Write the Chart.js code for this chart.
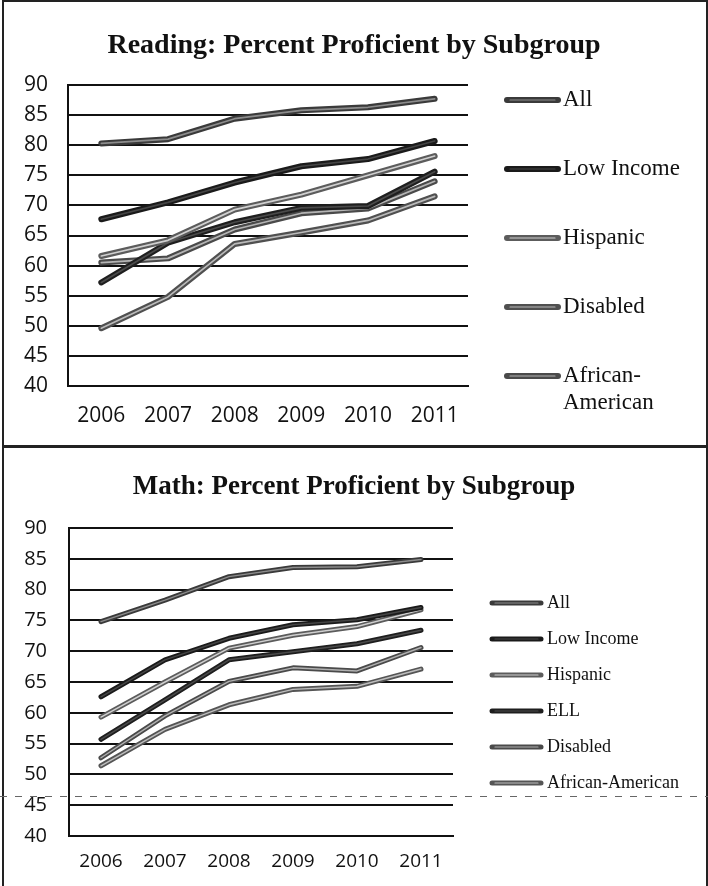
<!DOCTYPE html>
<html>
<head>
<meta charset="utf-8">
<script src="https://cdn.jsdelivr.net/npm/chart.js@4.4.1/dist/chart.umd.min.js"></script>
<style>
  html, body { margin:0; padding:0; background:#fff; }
  body { width:708px; height:886px; overflow:hidden; position:relative; }
  .frame { position:absolute; box-sizing:border-box; border:2px solid #222; }
  canvas { position:absolute; left:0; }
  .fold { position:absolute; left:0; width:708px; height:1px; top:796px;
          background: repeating-linear-gradient(to right, #666 0 7px, transparent 7px 15px); }
</style>
</head>
<body>
<div class="frame" style="left:2px; top:0; width:706px; height:448px;"></div>
<div class="frame" style="left:2px; top:445px; width:706px; height:460px;"></div>
<canvas id="reading" width="708" height="445" style="top:0"></canvas>
<canvas id="math" width="708" height="441" style="top:445px"></canvas>
<div class="fold"></div>
<script>
// ---------- data ----------
const years = ['2006', '2007', '2008', '2009', '2010', '2011'];

const readingTitle = 'Reading: Percent Proficient by Subgroup';
const readingAll             = [80.3, 81.0, 84.4, 85.8, 86.3, 87.7];
const readingLowIncome       = [67.7, 70.5, 73.8, 76.5, 77.7, 80.7];
const readingHispanic        = [61.6, 64.2, 69.3, 71.8, 75.0, 78.2];
const readingELL             = [57.2, 63.8, 67.2, 69.6, 69.9, 75.6];
const readingAfricanAmerican = [60.5, 61.2, 66.0, 68.7, 69.5, 74.0];
const readingDisabled        = [49.6, 54.8, 63.6, 65.5, 67.5, 71.5];

const mathTitle = 'Math: Percent Proficient by Subgroup';
const mathAll             = [74.8, 78.3, 82.1, 83.6, 83.7, 84.9];
const mathLowIncome       = [62.6, 68.6, 72.1, 74.3, 75.1, 77.1];
const mathHispanic        = [59.3, 65.0, 70.5, 72.6, 74.0, 76.7];
const mathELL             = [55.7, 62.1, 68.6, 69.9, 71.2, 73.4];
const mathDisabled        = [52.7, 59.5, 65.1, 67.3, 66.8, 70.6];
const mathAfricanAmerican = [51.4, 57.3, 61.3, 63.8, 64.3, 67.1];

const yMin = 40, yMax = 90, yStep = 5;

// ---------- helpers ----------
function series(label, data, color, hl, width, k) {
  return [
    { label, data, yAxisID: 'y', borderColor: color, borderWidth: width, order: 2 * k + 1 },
    { label: label + ' (hl)', data, yAxisID: 'y', borderColor: hl, borderWidth: Math.max(1, width / 3.5), order: 2 * k, isHighlight: true }
  ];
}

const sideLegend = {
  id: 'sideLegend',
  afterDraw(chart, args, o) {
    const ctx = chart.ctx;
    ctx.save();
    const bases = chart.data.datasets.filter(d => !d.isHighlight);
    o.items.forEach((it, i) => {
      const ds = bases.find(d => d.label === it.label);
      const hl = chart.data.datasets.find(d => d.label === it.label + ' (hl)');
      const y = o.top + i * o.gap;
      ctx.lineCap = 'round';
      ctx.strokeStyle = ds.borderColor; ctx.lineWidth = o.lineWidth;
      ctx.beginPath(); ctx.moveTo(o.x0, y); ctx.lineTo(o.x1, y); ctx.stroke();
      ctx.strokeStyle = hl.borderColor; ctx.lineWidth = 1.2;
      ctx.beginPath(); ctx.moveTo(o.x0 + 3, y); ctx.lineTo(o.x1 - 3, y); ctx.stroke();
      ctx.font = o.font; ctx.fillStyle = '#111'; ctx.textBaseline = 'middle'; ctx.textAlign = 'left';
      const lines = it.lines || [ds.label];
      lines.forEach((t, j) => ctx.fillText(t, o.textX, y + j * o.lineHeight));
    });
    ctx.restore();
  }
};

function makeChart(id, title, datasets, geo) {
  return new Chart(document.getElementById(id), {
    type: 'line',
    data: { labels: years, datasets },
    options: {
      responsive: false, animation: false, devicePixelRatio: 1,
      layout: { padding: 0 },
      elements: {
        line: { tension: 0, borderCapStyle: 'round', borderJoinStyle: 'round' },
        point: { radius: 0, hoverRadius: 0 }
      },
      plugins: {
        legend: { display: false },
        tooltip: { enabled: false },
        title: {
          display: true, text: title, color: '#111',
          font: { family: 'Liberation Serif', weight: 'bold', size: geo.titleSize, lineHeight: 1.2 },
          padding: { top: geo.titleTop, bottom: geo.titleBottom }
        },
        sideLegend: geo.legend
      },
      scales: {
        x: {
          offset: true,
          grid: { display: false, drawTicks: false },
          border: { display: true, color: '#111', width: 2 },
          ticks: { color: '#111', padding: geo.xPad, font: { family: 'Open Sans', size: geo.xFont } },
          afterFit: s => { s.height = geo.xHeight; }
        },
        y: {
          position: 'left',
          min: yMin, max: yMax,
          grid: { color: '#111', lineWidth: 2, drawTicks: false },
          border: { display: true, color: '#111', width: 2 },
          ticks: { stepSize: yStep, color: '#111', padding: geo.yPad, font: { family: 'Open Sans', size: geo.yFont } },
          afterFit: s => { s.width = geo.yWidth; }
        },
        legendSpace: {
          type: 'linear', position: 'right', min: yMin, max: yMax,
          grid: { display: false, drawTicks: false },
          border: { display: false },
          ticks: { display: false },
          afterFit: s => { s.width = geo.padRight; }
        }
      }
    },
    plugins: [sideLegend]
  });
}

// ---------- reading ----------
const readingSets = [
  ...series('All', readingAll, '#3a3a3a', '#8c8c8c', 6, 0),
  ...series('Low Income', readingLowIncome, '#1a1a1a', '#454545', 6, 1),
  ...series('Hispanic', readingHispanic, '#5c5c5c', '#cfcfcf', 6, 2),
  ...series('ELL', readingELL, '#1e1e1e', '#4a4a4a', 6, 3),
  ...series('African-American', readingAfricanAmerican, '#4a4a4a', '#b4b4b4', 6, 4),
  ...series('Disabled', readingDisabled, '#505050', '#bababa', 6, 5)
];
makeChart('reading', readingTitle, readingSets, {
  padRight: 240, titleSize: 28, titleTop: 29, titleBottom: 22.4,
  xHeight: 59, xPad: 17, xFont: 21, yWidth: 68, yPad: 20, yFont: 21,
  legend: {
    x0: 507, x1: 558, textX: 563, top: 100, gap: 69, lineWidth: 6,
    font: '23px "Liberation Serif"', lineHeight: 27,
    items: [
      { label: 'All' }, { label: 'Low Income' }, { label: 'Hispanic' },
      { label: 'Disabled' }, { label: 'African-American', lines: ['African-', 'American'] }
    ]
  }
});

// ---------- math ----------
const mathSets = [
  ...series('All', mathAll, '#3a3a3a', '#8c8c8c', 5, 0),
  ...series('Low Income', mathLowIncome, '#1a1a1a', '#454545', 5, 1),
  ...series('Hispanic', mathHispanic, '#5c5c5c', '#cfcfcf', 5, 2),
  ...series('ELL', mathELL, '#1e1e1e', '#4a4a4a', 5, 3),
  ...series('Disabled', mathDisabled, '#4a4a4a', '#b0b0b0', 5, 4),
  ...series('African-American', mathAfricanAmerican, '#555555', '#bdbdbd', 5, 5)
];
makeChart('math', mathTitle, mathSets, {
  padRight: 255, titleSize: 27, titleTop: 26, titleBottom: 24.6,
  xHeight: 50, xPad: 14, xFont: 19, yWidth: 69, yPad: 22, yFont: 20,
  legend: {
    x0: 492, x1: 541, textX: 547, top: 158, gap: 36, lineWidth: 5,
    font: '18px "Liberation Serif"', lineHeight: 22,
    items: [
      { label: 'All' }, { label: 'Low Income' }, { label: 'Hispanic' },
      { label: 'ELL' }, { label: 'Disabled' }, { label: 'African-American' }
    ]
  }
});
</script>
</body>
</html>
